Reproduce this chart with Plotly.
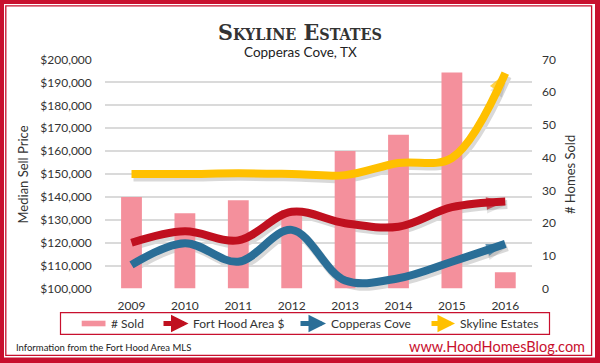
import plotly.graph_objects as go

# ---------------- data ----------------
years = ["2009", "2010", "2011", "2012", "2013", "2014", "2015", "2016"]
homes_sold = [28, 23, 27, 24, 42, 47, 66, 5]
fort_hood_price = [120000, 125000, 121000, 133500, 128500, 127000, 135500, 138000]
copperas_price = [110300, 119800, 111700, 125600, 103500, 104500, 111700, 119500]
skyline_price = [150000, 150000, 150300, 150000, 149500, 154800, 157000, 194000]

price_ticks = [100000, 110000, 120000, 130000, 140000, 150000, 160000, 170000, 180000, 190000, 200000]
price_labels = ["$" + format(v, ",") for v in price_ticks]
sold_ticks = [0, 10, 20, 30, 40, 50, 60, 70]

# ---------------- style ----------------
W, H = 600, 363
RED = "#C0101F"
FRAME_RED = "#C8102E"
BLUE = "#2A6E97"
YELLOW = "#FFC000"
PINK = "#F4909C"
TXT = "#333333"
FONT = "Lato, 'Open Sans', sans-serif"

PL, PR, PT, PB = 104.8, 532.0, 59.5, 288.5   # plot box in pixels
SHX, SHY = 2.0, 3.0                           # shadow offset in pixels


def px(x):
    return x / W


def py(y):
    return 1 - y / H


X_DOM = [px(PL), px(PR)]
Y_DOM = [py(PB), py(PT)]
X_DOM_S = [px(PL + SHX), px(PR + SHX)]
Y_DOM_S = [py(PB + SHY), py(PT + SHY)]

series = [
    ("Fort Hood Area $", fort_hood_price, RED),
    ("Copperas Cove", copperas_price, BLUE),
    ("Skyline Estates", skyline_price, YELLOW),
]

n = len(years)
arrow_sizes = [0] * (n - 1) + [20]

fig = go.Figure()

# soft shadows (same data, drawn on an axis pair shifted a few pixels)
for name, vals, col in series:
    fig.add_trace(go.Scatter(
        x=years, y=vals, xaxis="x", yaxis="y", mode="lines+markers",
        line=dict(shape="spline", smoothing=1.0, width=9, color="rgba(0,0,0,0.15)"),
        marker=dict(symbol="arrow", size=[s + 2 for s in arrow_sizes], angleref="previous",
                    color="rgba(0,0,0,0.15)", line=dict(width=0)),
        cliponaxis=False, hoverinfo="skip", showlegend=False,
    ))

# bars (# sold) on the right axis
fig.add_trace(go.Bar(
    x=years, y=homes_sold, xaxis="x2", yaxis="y2",
    width=0.39, marker=dict(color=PINK, line=dict(width=0)),
    name="# Sold",
))

# price lines with arrow heads (left axis, overlaid)
for name, vals, col in series:
    fig.add_trace(go.Scatter(
        x=years, y=vals, xaxis="x2", yaxis="y3", mode="lines+markers",
        line=dict(shape="spline", smoothing=1.0, width=8, color=col),
        marker=dict(symbol="arrow", size=arrow_sizes, angleref="previous",
                    color=col, line=dict(width=0)),
        cliponaxis=False, name=name,
    ))

rng_x = [-0.5, n - 0.5]
rng_p = [price_ticks[0], price_ticks[-1]]
rng_s = [sold_ticks[0], sold_ticks[-1]]


def band(x0, y0, x1, y1, col=FRAME_RED):
    return dict(type="rect", xref="paper", yref="paper", x0=px(x0), x1=px(x1), y0=py(y1), y1=py(y0),
                fillcolor=col, line=dict(width=0), layer="above")


LEG_Y = 323.5
shapes = [
    # outer frame bands
    band(0, 0, 600, 4), band(0, 357.5, 600, 363), band(0, 0, 4, 363), band(595, 0, 600, 363),
    # inner thin frame
    dict(type="rect", xref="paper", yref="paper", x0=px(5.8), x1=px(591.6), y0=py(355.4), y1=py(5.8),
         line=dict(color=FRAME_RED, width=1.3), layer="above"),
    # legend box
    dict(type="rect", xref="paper", yref="paper", x0=px(60.5), x1=px(549.5), y0=py(334.3), y1=py(312.7),
         line=dict(color=FRAME_RED, width=1.2), layer="above"),
    # legend bar swatch
    band(81.7, LEG_Y - 2.8, 105.5, LEG_Y + 2.8, PINK),
]

annotations = [
    dict(text="Skyline Estates", x=0.5, y=py(31.5), xref="paper", yref="paper", showarrow=False,
         font=dict(family="'DejaVu Serif Condensed', 'Liberation Serif', serif", size=23,
                   color="#333333", weight="bold", variant="small-caps"),
         xanchor="center", yanchor="middle"),
    dict(text="Copperas Cove, TX", x=0.5, y=py(52.5), xref="paper", yref="paper", showarrow=False,
         font=dict(family=FONT, size=13.5, color="#222"), xanchor="center", yanchor="middle"),
    dict(text="Median Sell Price", x=px(22.5), y=py(175), xref="paper", yref="paper", showarrow=False,
         textangle=-90, font=dict(family=FONT, size=13, color=TXT), xanchor="center", yanchor="middle"),
    dict(text="# Homes Sold", x=px(570), y=py(175), xref="paper", yref="paper", showarrow=False,
         textangle=-90, font=dict(family=FONT, size=13, color=TXT), xanchor="center", yanchor="middle"),
    dict(text="Information from the Fort Hood Area MLS", x=px(14), y=py(347.5), xref="paper", yref="paper",
         showarrow=False, font=dict(family=FONT, size=9.5, color="#222"), xanchor="left", yanchor="middle"),
    dict(text="www.HoodHomesBlog.com", x=px(587), y=py(346.5), xref="paper", yref="paper",
         showarrow=False, font=dict(family=FONT, size=14.5, color=FRAME_RED), xanchor="right", yanchor="middle"),
    # legend labels
    dict(text="# Sold", x=px(109), y=py(LEG_Y), xref="paper", yref="paper", showarrow=False,
         font=dict(family=FONT, size=12, color=TXT), xanchor="left", yanchor="middle"),
]

legend_items = [
    ("Fort Hood Area $", RED, 162, 188.5, 191),
    ("Copperas Cove", BLUE, 299, 326, 329),
    ("Skyline Estates", YELLOW, 430, 455, 458.3),
]
for label, col, x0, x1, xt in legend_items:
    annotations.append(dict(
        text="", x=px(x1), y=py(LEG_Y), xref="paper", yref="paper",
        ax=-(x1 - x0), ay=0, axref="pixel", ayref="pixel",
        showarrow=True, arrowhead=2, arrowsize=0.7, arrowwidth=5, arrowcolor=col,
        standoff=0, startstandoff=0,
    ))
    annotations.append(dict(
        text=label, x=px(xt), y=py(LEG_Y), xref="paper", yref="paper", showarrow=False,
        font=dict(family=FONT, size=12, color=TXT), xanchor="left", yanchor="middle",
    ))

tickfont = dict(family=FONT, size=12, color=TXT)

fig.update_layout(
    width=W, height=H,
    margin=dict(l=0, r=0, t=0, b=0, autoexpand=False),
    paper_bgcolor="white", plot_bgcolor="rgba(0,0,0,0)",
    showlegend=False,
    shapes=shapes, annotations=annotations,
    # shadow pair
    xaxis=dict(domain=X_DOM_S, type="category", range=rng_x, anchor="y", visible=False),
    yaxis=dict(domain=Y_DOM_S, range=rng_p, anchor="x", visible=False),
    # main pair: categories + homes sold (right)
    xaxis2=dict(domain=X_DOM, type="category", range=rng_x, anchor="y2",
                showgrid=False, zeroline=False, showline=False, ticks="",
                tickfont=tickfont, ticklabelstandoff=8),
    yaxis2=dict(domain=Y_DOM, side="right", range=rng_s, anchor="x2", tickvals=sold_ticks,
                showgrid=False, zeroline=False, showline=False, ticks="", tickfont=tickfont,
                ticklabelstandoff=9),
    # price axis (left), overlaid
    yaxis3=dict(overlaying="y2", side="left", range=rng_p, anchor="x2",
                tickmode="array", tickvals=price_ticks, ticktext=price_labels,
                showgrid=True, gridcolor="#DADADA", gridwidth=1.5,
                zeroline=False, showline=False, ticks="", tickfont=tickfont, ticklabelstandoff=12),
)

fig.write_html("out.html", config={"displayModeBar": False},
               post_script="document.body.style.margin='0';document.body.style.overflow='hidden';")
